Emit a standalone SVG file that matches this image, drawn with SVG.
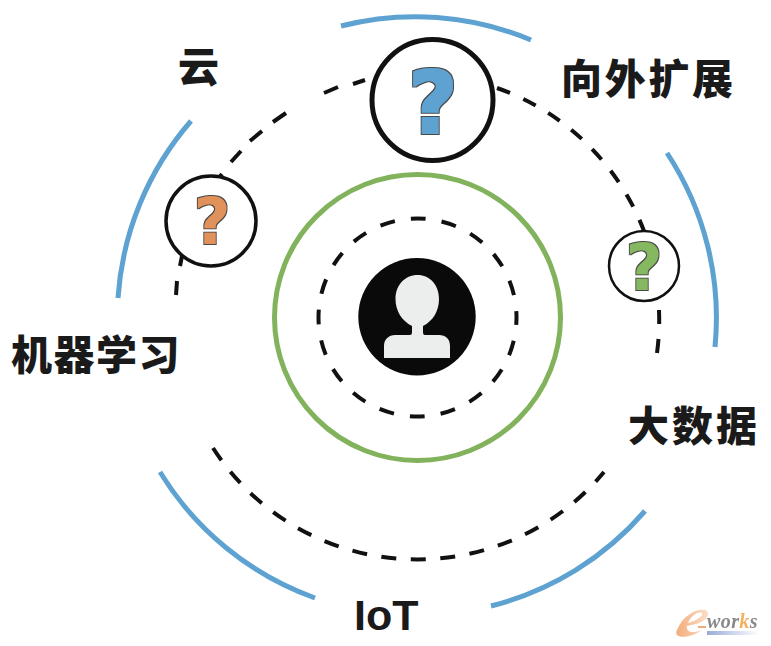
<svg xmlns="http://www.w3.org/2000/svg" width="771" height="646" viewBox="0 0 771 646">
<defs>
<linearGradient id="eg" x1="0" y1="0" x2="1" y2="0"><stop offset="0" stop-color="#f2a36c"/><stop offset="1" stop-color="#fbdcc4"/></linearGradient>
<linearGradient id="bar" x1="0" y1="0" x2="1" y2="0"><stop offset="0" stop-color="#8fa3d6"/><stop offset="1" stop-color="#ffffff"/></linearGradient>
<filter id="fat" x="-30%" y="-30%" width="160%" height="160%">
<feMorphology in="SourceGraphic" operator="dilate" radius="0.600" result="f"/>
<feMorphology in="SourceAlpha" operator="dilate" radius="1.700" result="o"/>
<feFlood flood-color="#4a4a4a"/>
<feComposite in2="o" operator="in" result="oc"/>
<feMerge><feMergeNode in="oc"/><feMergeNode in="f"/></feMerge>
</filter>
<filter id="fat2" x="-30%" y="-30%" width="160%" height="160%">
<feMorphology in="SourceGraphic" operator="dilate" radius="0.400" result="f"/>
<feMorphology in="SourceAlpha" operator="dilate" radius="1.300" result="o"/>
<feFlood flood-color="#4a4a4a"/>
<feComposite in2="o" operator="in" result="oc"/>
<feMerge><feMergeNode in="oc"/><feMergeNode in="f"/></feMerge>
</filter>
</defs>
<style>
.blue{fill:none;stroke:#5da2d0;stroke-width:5}
.dash{fill:none;stroke:#111;stroke-width:4}
.lab{font-family:"Noto Sans CJK SC","Liberation Sans",sans-serif;font-weight:900;font-size:41px;fill:#1a1a1a}
.q{font-family:"DejaVu Sans",sans-serif;font-weight:700;text-anchor:middle}
.node{fill:#fff;stroke:#111}
</style>
<g id="connectors">
<path class="blue" d="M341 26A300 300 0 0 1 531 40"/>
<path class="blue" d="M667 153A300 300 0 0 1 715 347"/>
<path class="blue" d="M645 511A300 300 0 0 1 491 606"/>
<path class="blue" d="M315 598A300 300 0 0 1 160 472"/>
<path class="blue" d="M118 298A300 300 0 0 1 191 121"/>
<path class="dash" stroke-dasharray="15 14.500" d="M213 448A243 243 0 0 0 604 472"/>
<path class="dash" stroke-dasharray="14 14.500" d="M497 88A243 243 0 0 1 644 231"/>
<path class="dash" stroke-dasharray="14 15" d="M659 310A243 243 0 0 1 657 353"/>
<path class="dash" d="M365 80L353 84M338 87L324 93M286 113L273 122M262 131L250 141M241 151L231 162M222 174L219 178M182 256L180 266M177 281L176 295"/>
<circle class="dash" cx="417.500" cy="317.500" r="99" stroke-dasharray="15 16.100" stroke-dashoffset="7.500"/>
</g>
<g id="center">
<circle cx="417.500" cy="317.500" r="143" fill="none" stroke="#82b35c" stroke-width="5"/>
<circle cx="417" cy="316.700" r="58.700" fill="#0a0a0a"/>
<path fill="#eceded" d="M384 358V346C384 339 389 335 395 335H410C411.500 335 412 334 412 332V326C402 321 395.500 311 395.500 299C395.500 285 405 275 417.500 275C430 275 439 285 439 299C439 311 433 321 423 326V332C423 334 423.500 335 425 335H439C446 335 450 339 450 346V358Z"/>
</g>
<g id="q-top">
<circle class="node" cx="432.500" cy="100" r="60.500" stroke-width="5"/>
<text class="q" x="433" y="132.500" font-size="85" fill="#5da2d0" filter="url(#fat)">?</text>
</g>
<g id="q-left">
<circle class="node" cx="211" cy="221" r="45" stroke-width="3.500"/>
<text class="q" x="212" y="244" font-size="64" fill="#e0925a" filter="url(#fat2)">?</text>
</g>
<g id="q-right">
<circle class="node" cx="644" cy="266" r="35" stroke-width="2.500"/>
<text class="q" x="644" y="290" font-size="64" fill="#85b860" filter="url(#fat2)">?</text>
</g>
<g id="labels">
<text class="lab" x="178" y="82">云</text>
<text class="lab" x="561" y="94" style="letter-spacing:2.700px">向外扩展</text>
<text class="lab" x="11" y="370" style="letter-spacing:1.500px">机器学习</text>
<text class="lab" x="628" y="441" style="letter-spacing:3px">大数据</text>
<text x="354" y="630" font-family="Liberation Sans, sans-serif" font-weight="700" font-size="43" fill="#1a1a1a">IoT</text>
</g>
<g id="logo" opacity="0.9">
<path fill="url(#eg)" d="M677 630C683 615 697 608 705 610C711 612 709 620 696 624L687 626C686 632 692 634 702 630C692 638 672 640 677 630ZM688 623C695 621 703 617 702 613C698 611 691 616 688 623Z"/>
<rect x="698" y="626" width="8" height="2" fill="#f2a36c"/>
<rect x="707" y="631" width="52" height="4" fill="url(#bar)"/>
<text x="707" y="628" font-family="Liberation Serif, serif" font-weight="700" font-style="italic" font-size="20" fill="#7c7c7c" style="letter-spacing:.4px">wor<tspan fill="#f2a94e">k</tspan>s</text>
</g>
</svg>
